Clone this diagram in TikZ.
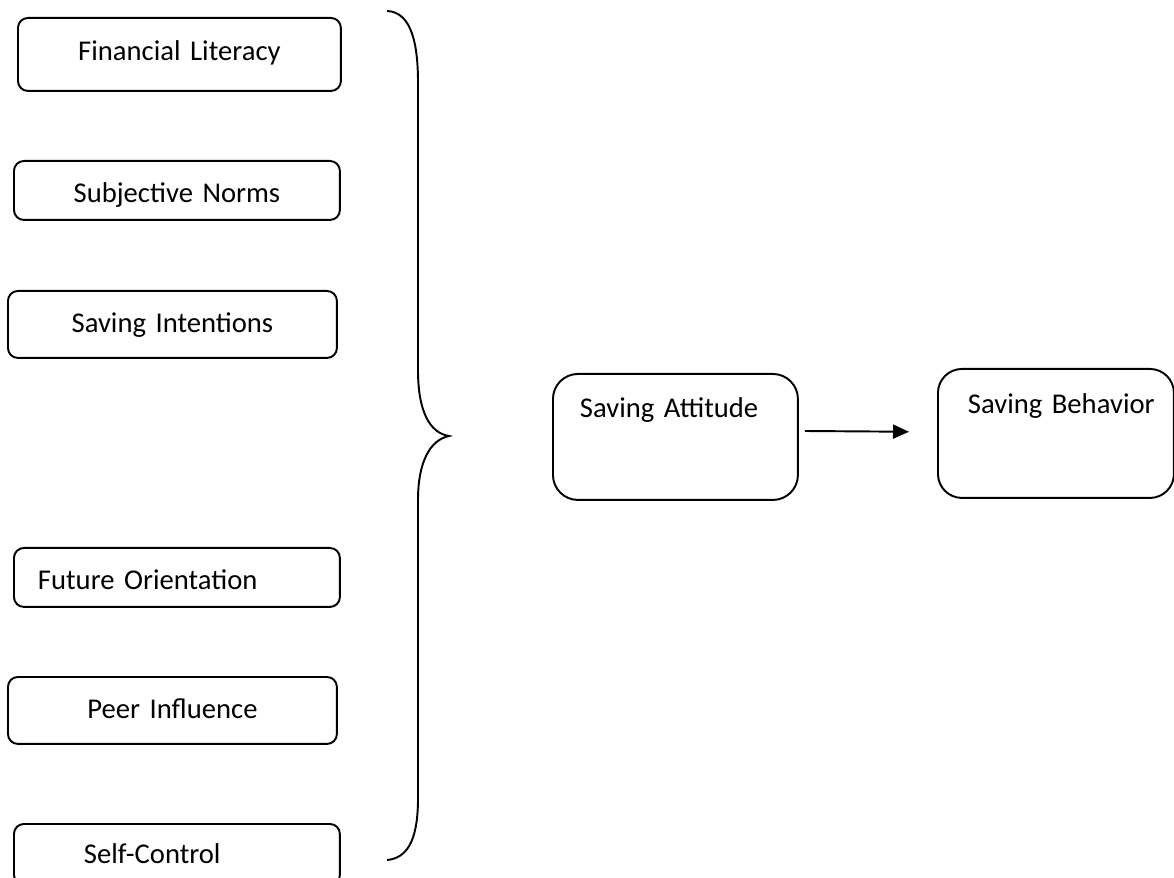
\documentclass[tikz,border=0pt]{standalone}
\usepackage{fontspec}
\setmainfont{Carlito}
\usetikzlibrary{arrows.meta}

\begin{document}
\begin{tikzpicture}[x=0.02cm, y=-0.02cm, line width=1.1pt,
        box/.style={draw, rounded corners=0.2cm, inner sep=0pt, anchor=north west, align=center,
            font=\fontsize{16.3}{19}\selectfont},
        lbox/.style={box, align=left, execute at begin node={\hspace*{#1}}},
        link/.style={-{Triangle[length=3.2mm, width=2.8mm]}}]
        \useasboundingbox (0,0) rectangle (1174,878);
        \clip (0,0) rectangle (1174,878);

        \node[box, text width=6.46cm, text height=0.86cm, text depth=0.6cm] (fl) at (17,17) {Financial Literacy};
        \node[box, text width=6.52cm, text height=0.84cm, text depth=0.34cm] (sn) at (13,160) {Subjective Norms};
        \node[box, text width=6.58cm, text height=0.84cm, text depth=0.5cm] (si) at (7,290) {Saving Intentions};
        \node[lbox=0.48cm, text width=6.52cm, text height=0.84cm, text depth=0.34cm] (fo) at (13,547) {Future Orientation};
        \node[box, text width=6.58cm, text height=0.84cm, text depth=0.5cm] (pi) at (7,676) {Peer Influence};
        \node[lbox=1.4cm, text width=6.52cm, text height=0.8cm, text depth=0.42cm] (sc) at (13,823) {Self-Control};
        \node[lbox=0.54cm, rounded corners=0.5cm, text width=4.9cm, text height=0.88cm, text depth=1.64cm] (att) at (552,373) {Saving Attitude};
        \node[lbox=0.6cm, rounded corners=0.48cm, text width=4.72cm, text height=0.9cm, text depth=1.68cm] (beh) at (937,368) {Saving Behavior};

        % brace
        \draw (387,11) .. controls (412,12) and (418,45) .. (418,83) -- (418,370)
            .. controls (418,412) and (430,433) .. (449,436)
            .. controls (430,440) and (418,462) .. (418,500) -- (418,798)
            .. controls (418,835) and (410,858) .. (387,860);

        \draw[link, shorten <=0.12cm, shorten >=0.56cm] ([yshift=0.12cm]att.east) -- ([yshift=0.03cm]beh.west);
    \end{tikzpicture}
\end{document}
